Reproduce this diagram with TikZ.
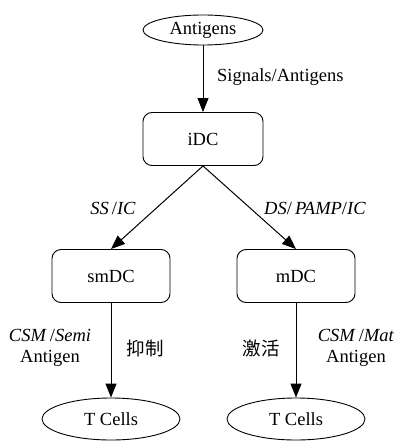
\documentclass[tikz,border=0pt]{standalone}
\usepackage{fontspec}
\setmainfont{Liberation Serif}
\newfontfamily\cjk{Noto Sans CJK SC}
\usepackage{tikz}
\usetikzlibrary{arrows.meta,positioning,shapes.geometric}

\begin{document}
\begin{tikzpicture}[x=1pt,y=-1pt,>=Triangle]
    \tikzset{
      cell/.style={ellipse,draw,line width=0.9pt,inner sep=0pt,font=\fontsize{18.5}{21}\selectfont},
      dcbox/.style={rounded corners=9pt,draw,line width=0.9pt,minimum width=118pt,minimum height=53pt,
                    font=\fontsize{18.5}{21}\selectfont},
      lbl/.style={font=\fontsize{18.5}{21}\selectfont,inner sep=0pt,align=center},
      flow/.style={-{Triangle[length=14pt,width=11pt]},line width=1pt}
    }
    \useasboundingbox (0,0) rectangle (396,441);
    \node[cell,minimum width=120pt,minimum height=30pt] (antigens) at (203,30) {Antigens};
    \node[dcbox,minimum width=120pt] (idc) at (203,139) {iDC};
    \node[dcbox] (smdc) at (111,276) {smDC};
    \node[dcbox] (mdc) at (296,276) {mDC};
    \node[cell,minimum width=138pt,minimum height=42pt] (tleft) at (111,419) {T Cells};
    \node[cell,minimum width=138pt,minimum height=42pt] (tright) at (296,419) {T Cells};
    \draw[flow] (antigens) -- (idc);
    \draw[flow] (idc.south) -- (smdc.north);
    \draw[flow] (idc.south) -- (mdc.north);
    \draw[flow] (smdc) -- (tleft);
    \draw[flow] (mdc) -- (tright);
    \node[lbl,anchor=west] (sig) at (217,77) {Signals/Antigens};
    \node[lbl] (ssic) at (113,208) {\textit{SS}\,/\textit{IC}};
    \node[lbl] (dsic) at (315,208) {\textit{DS}/\,\textit{PAMP}/\textit{IC}};
    \node[lbl] (csmsemi) at (50,348) {\textit{CSM}\,/\textit{Semi}\\Antigen};
    \node[lbl] (yizhi) at (145,348) {\cjk 抑制};
    \node[lbl] (jihuo) at (261,348) {\cjk 激活};
    \node[lbl] (csmmat) at (356,348) {\textit{CSM}\,/\textit{Mat}\\Antigen};
  \end{tikzpicture}
\end{document}
